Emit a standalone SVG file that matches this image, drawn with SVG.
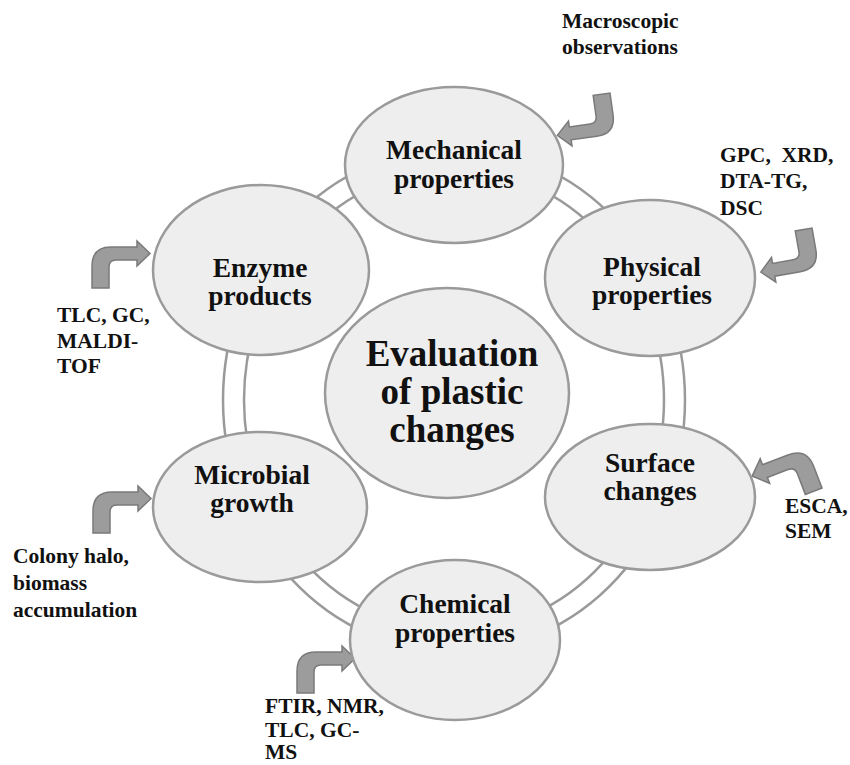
<svg xmlns="http://www.w3.org/2000/svg" width="850" height="765" viewBox="0 0 850 765">
<style>
.node{fill:#eeeeee;stroke:#9a9a9a;stroke-width:2.5}
.ring{fill:none;stroke:#9a9a9a;stroke-width:2.5}
.lbl{font-family:"Liberation Serif","Times New Roman",serif;font-weight:bold;font-size:27.5px;fill:#111;text-anchor:middle}
.big{font-size:37px}
.ann{font-family:"Liberation Serif","Times New Roman",serif;font-weight:bold;font-size:21.5px;fill:#111;white-space:pre}
.arr{fill:#9c9c9c;stroke:#7a7a7a;stroke-width:1.5}
</style>
<defs>
<path id="bent" d="M0,0 L0,-22 Q0,-41 19,-41 L45,-41 L45,-47 L58,-34.5 L45,-22 L45,-28 L24,-28 Q17,-28 17,-21 L17,0 Z"/>
</defs>
<rect width="850" height="765" fill="#ffffff"/>
<g id="ring">
<ellipse cx="454" cy="400" rx="231" ry="252" fill="#ffffff" class="ring"/>
<ellipse cx="454" cy="400" rx="210" ry="231" class="ring"/>
</g>
<g id="connectors">
<use href="#bent" class="arr" transform="translate(610,93) rotate(172)"/>
<use href="#bent" class="arr" transform="translate(812,228) rotate(170)"/>
<use href="#bent" class="arr" transform="translate(92,288)"/>
<use href="#bent" class="arr" transform="translate(93,533)"/>
<use href="#bent" class="arr" transform="translate(297,693)"/>
<use href="#bent" class="arr" transform="translate(822,488) rotate(-21) scale(-1.05,1.05)"/>
</g>
<g id="center">
<ellipse class="node" cx="447" cy="393" rx="122" ry="105"/>
<text class="lbl big" x="452" y="366">Evaluation</text>
<text class="lbl big" x="452" y="404">of plastic</text>
<text class="lbl big" x="452" y="442">changes</text>
</g>
<g id="mechanical">
<ellipse class="node" cx="454" cy="165" rx="109" ry="78"/>
<text class="lbl" x="454" y="159">Mechanical</text>
<text class="lbl" x="454" y="188">properties</text>
</g>
<g id="physical">
<ellipse class="node" cx="650" cy="278" rx="105" ry="78"/>
<text class="lbl" x="652" y="276">Physical</text>
<text class="lbl" x="652" y="304">properties</text>
</g>
<g id="enzyme">
<ellipse class="node" cx="261" cy="270" rx="108" ry="85"/>
<text class="lbl" x="260" y="277">Enzyme</text>
<text class="lbl" x="260" y="305">products</text>
</g>
<g id="surface">
<ellipse class="node" cx="650" cy="497" rx="105" ry="73"/>
<text class="lbl" x="650" y="472">Surface</text>
<text class="lbl" x="650" y="500">changes</text>
</g>
<g id="microbial">
<ellipse class="node" cx="260" cy="507" rx="107" ry="75"/>
<text class="lbl" x="252" y="484">Microbial</text>
<text class="lbl" x="252" y="512">growth</text>
</g>
<g id="chemical">
<ellipse class="node" cx="455" cy="640" rx="105" ry="80"/>
<text class="lbl" x="455" y="613">Chemical</text>
<text class="lbl" x="455" y="642">properties</text>
</g>
<g id="annotations">
<text class="ann" x="562" y="28">Macroscopic</text>
<text class="ann" x="562" y="54">observations</text>
<text class="ann" x="720" y="162" xml:space="preserve">GPC,  XRD,</text>
<text class="ann" x="720" y="188">DTA-TG,</text>
<text class="ann" x="720" y="215">DSC</text>
<text class="ann" x="57" y="322">TLC, GC,</text>
<text class="ann" x="57" y="348">MALDI-</text>
<text class="ann" x="57" y="373">TOF</text>
<text class="ann" x="13" y="563">Colony halo,</text>
<text class="ann" x="13" y="590">biomass</text>
<text class="ann" x="13" y="617">accumulation</text>
<text class="ann" x="265" y="713">FTIR, NMR,</text>
<text class="ann" x="265" y="737">TLC, GC-</text>
<text class="ann" x="265" y="759">MS</text>
<text class="ann" x="785" y="513">ESCA,</text>
<text class="ann" x="785" y="538">SEM</text>
</g>
</svg>
